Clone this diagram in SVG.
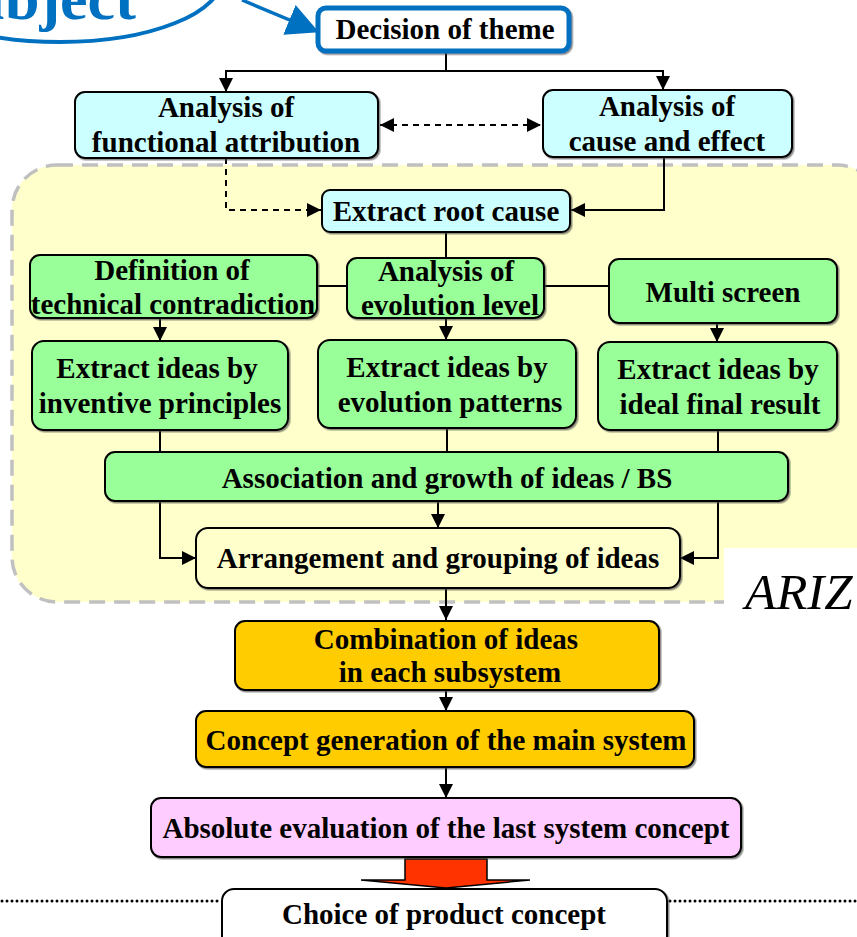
<svg xmlns="http://www.w3.org/2000/svg" width="857" height="937" viewBox="0 0 857 937">
<defs>
<style>
.box{stroke:#000;stroke-width:2;filter:url(#sh)}
.t{font-family:"Liberation Serif","Times New Roman",serif;font-weight:bold;font-size:29px;fill:#000;text-anchor:middle}
.c{fill:none;stroke:#000;stroke-width:2}
.d{fill:none;stroke:#000;stroke-width:2;stroke-dasharray:6,5}
.cy{fill:#CCFFFF}.gr{fill:#99FF99}.yl{fill:#FFFFCC}.or{fill:#FFCC00}.pk{fill:#FFCCFF}.wh{fill:#fff}
.ariz{font-family:"Liberation Serif","Times New Roman",serif;font-style:italic;font-size:51px;fill:#000}
.subj{font-family:"Liberation Serif","Times New Roman",serif;font-weight:bold;font-size:62px;fill:#0070C0}
</style>
<filter id="sh" x="-5%" y="-5%" width="112%" height="120%">
<feDropShadow dx="1.5" dy="1.5" stdDeviation="0.6" flood-color="#444" flood-opacity="0.6"/>
</filter>
<marker id="a" viewBox="0 0 10 10" refX="10" refY="5" markerUnits="userSpaceOnUse" markerWidth="14" markerHeight="14" orient="auto-start-reverse">
<path d="M0,0 L10,5 L0,10 z" fill="#000"/>
</marker>
<marker id="ab" viewBox="0 0 10 10" refX="9" refY="5" markerUnits="userSpaceOnUse" markerWidth="32" markerHeight="32" orient="auto">
<path d="M0,0 L10,5 L0,10 z" fill="#0070C0"/>
</marker>
</defs>

<g id="region">
<rect x="12" y="165" width="870" height="437" rx="45" fill="#FFFFCC" stroke="#C0C0C0" stroke-width="3.5" stroke-dasharray="16,9"/>
<rect x="724" y="548" width="140" height="60" fill="#fff"/>
<text class="ariz" x="745" y="609">ARIZ</text>
</g>

<g id="subject">
<ellipse cx="60" cy="-22" rx="162" ry="64" fill="none" stroke="#0070C0" stroke-width="4"/>
<text class="subj" x="-64" y="19">Subject</text>
</g>

<g id="connectors">
<path d="M242,0 L316,31" fill="none" stroke="#0070C0" stroke-width="3.5" marker-end="url(#ab)"/>
<path class="c" d="M446,52 V71"/>
<path class="c" d="M446,71 H226 V92" marker-end="url(#a)"/>
<path class="c" d="M446,71 H663 V90" marker-end="url(#a)"/>
<path class="d" d="M380,125 H541" marker-start="url(#a)" marker-end="url(#a)"/>
<path class="d" d="M226,158 V210 H321" marker-end="url(#a)"/>
<path class="c" d="M664,157 V210 H571" marker-end="url(#a)"/>
<path class="c" d="M446,232 V258"/>
<path class="c" d="M317,286 H347"/>
<path class="c" d="M544,286 H609"/>
<path class="c" d="M160,318 V341" marker-end="url(#a)"/>
<path class="c" d="M446,318 V340" marker-end="url(#a)"/>
<path class="c" d="M717,323 V342" marker-end="url(#a)"/>
<path class="c" d="M160,430 V452"/>
<path class="c" d="M447,428 V452"/>
<path class="c" d="M718,430 V452"/>
<path class="c" d="M160,501 V558 H196" marker-end="url(#a)"/>
<path class="c" d="M438,501 V528" marker-end="url(#a)"/>
<path class="c" d="M718,501 V558 H680" marker-end="url(#a)"/>
<path class="c" d="M446,588 V620" marker-end="url(#a)"/>
<path class="c" d="M446,690 V711" marker-end="url(#a)"/>
<path class="c" d="M446,767 V798" marker-end="url(#a)"/>
<polygon points="405,859 487,859 487,880 530,880 446,888 361,880 405,880" fill="#FF3300" stroke="#000" stroke-width="1.5"/>
<path d="M2,901 H220 M670,901 H857" stroke="#000" stroke-width="3" stroke-dasharray="0,5" stroke-linecap="round"/>
</g>

<g id="n-decision">
<rect x="318" y="8" width="251" height="43" rx="8" fill="#fff" stroke="#0070C0" stroke-width="5" filter="url(#sh)"/>
<text class="t" x="445" y="39">Decision of theme</text>
</g>
<g id="n-functional">
<rect class="box cy" x="75" y="92" width="303" height="66" rx="10"/>
<text class="t" x="226" y="117">Analysis of</text>
<text class="t" x="226" y="152">functional attribution</text>
</g>
<g id="n-cause">
<rect class="box cy" x="543" y="90" width="249" height="67" rx="10"/>
<text class="t" x="667" y="116">Analysis of</text>
<text class="t" x="667" y="151">cause and effect</text>
</g>
<g id="n-root">
<rect class="box cy" x="322" y="190" width="248" height="42" rx="8"/>
<text class="t" x="446" y="221">Extract root cause</text>
</g>
<g id="n-contradiction">
<rect class="box gr" x="30" y="255" width="287" height="63" rx="10"/>
<text class="t" x="172" y="280">Definition of</text>
<text class="t" x="173" y="314">technical contradiction</text>
</g>
<g id="n-evolution">
<rect class="box gr" x="347" y="258" width="197" height="60" rx="10"/>
<text class="t" x="446" y="281">Analysis of</text>
<text class="t" x="450" y="315">evolution level</text>
</g>
<g id="n-multi">
<rect class="box gr" x="609" y="259" width="228" height="64" rx="10"/>
<text class="t" x="723" y="302">Multi screen</text>
</g>
<g id="n-inventive">
<rect class="box gr" x="32" y="341" width="256" height="89" rx="12"/>
<text class="t" x="157" y="378">Extract ideas by</text>
<text class="t" x="160" y="413">inventive principles</text>
</g>
<g id="n-patterns">
<rect class="box gr" x="318" y="340" width="258" height="88" rx="12"/>
<text class="t" x="447" y="377">Extract ideas by</text>
<text class="t" x="450" y="412">evolution patterns</text>
</g>
<g id="n-ideal">
<rect class="box gr" x="598" y="342" width="239" height="88" rx="12"/>
<text class="t" x="718" y="379">Extract ideas by</text>
<text class="t" x="720" y="414">ideal final result</text>
</g>
<g id="n-association">
<rect class="box gr" x="105" y="452" width="683" height="49" rx="10"/>
<text class="t" x="447" y="488">Association and growth of ideas / BS</text>
</g>
<g id="n-arrangement">
<rect class="box yl" x="196" y="528" width="484" height="60" rx="12"/>
<text class="t" x="438" y="568">Arrangement and grouping of ideas</text>
</g>
<g id="n-combination">
<rect class="box or" x="235" y="621" width="424" height="69" rx="10"/>
<text class="t" x="446" y="649">Combination of ideas</text>
<text class="t" x="450" y="682">in each subsystem</text>
</g>
<g id="n-concept">
<rect class="box or" x="196" y="711" width="498" height="56" rx="10"/>
<text class="t" x="446" y="750">Concept generation of the main system</text>
</g>
<g id="n-absolute">
<rect class="box pk" x="151" y="798" width="590" height="59" rx="10"/>
<text class="t" x="446" y="838">Absolute evaluation of the last system concept</text>
</g>
<g id="n-choice">
<rect class="box wh" x="222" y="889" width="445" height="60" rx="12"/>
<text class="t" x="444" y="924">Choice of product concept</text>
</g>
</svg>
